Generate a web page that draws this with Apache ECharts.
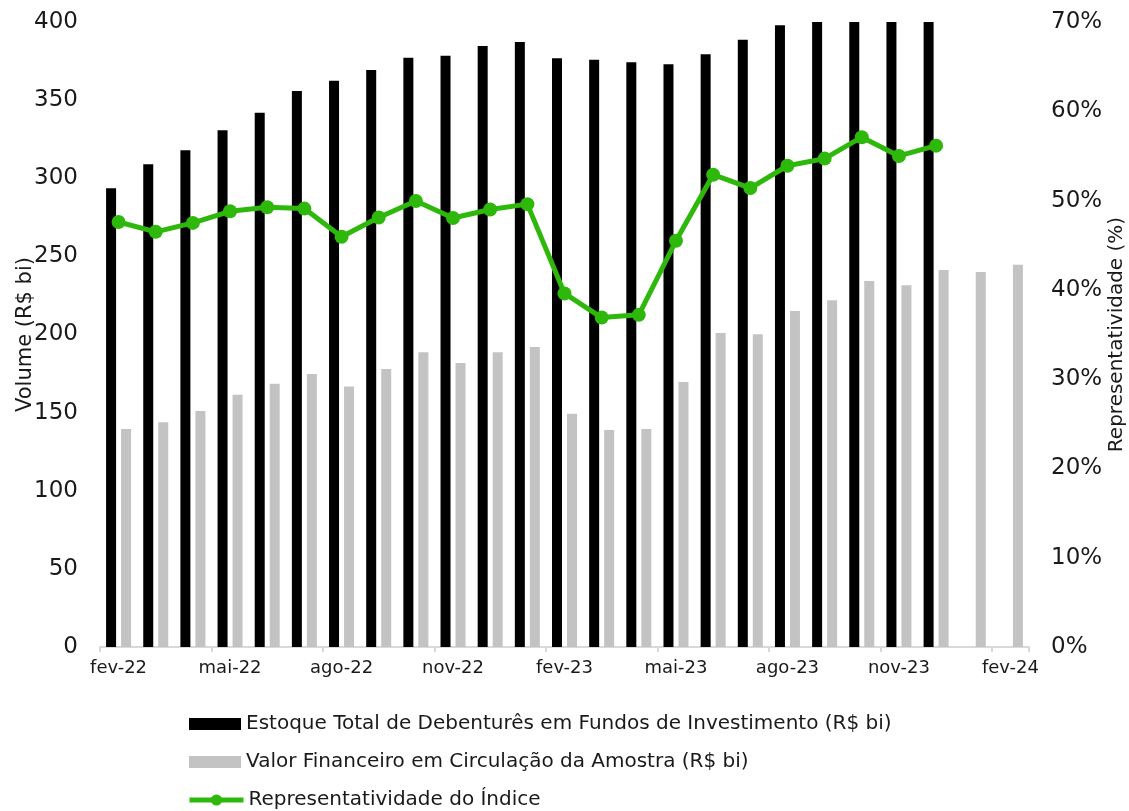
<!DOCTYPE html>
<html>
<head>
<meta charset="utf-8">
<script src="https://cdn.jsdelivr.net/npm/echarts@6/dist/echarts.min.js"></script>
<style>html,body{margin:0;padding:0;background:#fff}#c{width:1129px;height:811px}</style>
</head>
<body>
<div id="c"></div>
<script>
const categories = ['fev-22','mar-22','abr-22','mai-22','jun-22','jul-22','ago-22','set-22','out-22','nov-22','dez-22','jan-23',
  'fev-23','mar-23','abr-23','mai-23','jun-23','jul-23','ago-23','set-23','out-23','nov-23','dez-23','jan-24','fev-24'];
const estoqueTotal = [293.6,309,318,330.7,342,355.8,362.4,369.3,377.2,378.4,384.6,387.2,
  376.8,375.9,374.2,372.9,379.3,388.7,398,404,408,410,412,null,null];
const valorFinanceiro = [139.5,143.8,151,161.5,168.5,174.7,166.8,177.9,188.6,181.8,188.6,192,
  149.3,138.9,139.5,169.6,201,200.1,215,222,234.2,231.5,241.3,240,244.7];
const representatividade = [47.6,46.5,47.5,48.8,49.25,49.1,45.95,48.1,49.95,48.05,49.0,49.6,
  39.6,36.9,37.2,45.5,52.9,51.4,53.9,54.7,57.1,55.0,56.15,null,null];
const seriesNames = ['Estoque Total de Debenturês em Fundos de Investimento (R$ bi)',
  'Valor Financeiro em Circulação da Amostra (R$ bi)', 'Representatividade do Índice'];
const leftTicks = {min:0, max:400, interval:50};
const rightTicks = {min:0, max:70, interval:10};

const chart = echarts.init(document.getElementById('c'));
const font = 'DejaVu Sans, sans-serif';
const txt = '#1a1a1a';
const green = '#2eb80c';
function leg(i, top, extra){
  return Object.assign({
    orient:'horizontal', left:189, top:top, padding:0, itemWidth:52, itemHeight:12, itemGap:5,
    textStyle:{fontFamily:font, fontSize:20, color:txt, lineHeight:20},
    data:[seriesNames[i]]
  }, extra||{});
}
chart.setOption({
  animation:false,
  grid:{left:100, right:100, top:22, bottom:164, containLabel:false, outerBoundsMode:'none'},
  legend:[
    leg(0, 714, {data:[{name:seriesNames[0], icon:'rect'}]}),
    leg(1, 752, {data:[{name:seriesNames[1], icon:'rect'}]}),
    leg(2, 790, {itemHeight:14, itemWidth:54, left:187, data:[{name:seriesNames[2], lineStyle:{width:5}}]})
  ],
  xAxis:{
    type:'category', data:categories, boundaryGap:true,
    axisLine:{show:true, lineStyle:{color:'#d9d9d9', width:2}},
    axisTick:{show:true, interval:2, alignWithLabel:false, length:5, lineStyle:{color:'#d9d9d9', width:2}},
    axisLabel:{interval:2, fontFamily:font, fontSize:18, color:txt, margin:12}
  },
  yAxis:[
    {type:'value', min:leftTicks.min, max:leftTicks.max, interval:leftTicks.interval,
     name:'Volume (R$ bi)', nameLocation:'middle', nameGap:64, nameMoveOverlap:false,
     nameTextStyle:{fontFamily:font, fontSize:21, color:txt},
     axisLine:{show:false}, axisTick:{show:false}, splitLine:{show:false},
     axisLabel:{fontFamily:font, fontSize:23, color:txt, margin:22}},
    {type:'value', min:rightTicks.min, max:rightTicks.max, interval:rightTicks.interval,
     name:'Representatividade (%)', nameLocation:'middle', nameGap:78, nameMoveOverlap:false,
     nameTextStyle:{fontFamily:font, fontSize:20, color:txt},
     axisLine:{show:false}, axisTick:{show:false}, splitLine:{show:false},
     axisLabel:{fontFamily:font, fontSize:23, color:txt, margin:22, formatter:'{value}%'}}
  ],
  series:[
    {name:seriesNames[0], type:'bar', data:estoqueTotal,
     barWidth:10, barGap:'50%', clip:true, itemStyle:{color:'#000000'}},
    {name:seriesNames[1], type:'bar', data:valorFinanceiro,
     barWidth:10, barGap:'50%', clip:true, itemStyle:{color:'#c3c3c3'}},
    {name:seriesNames[2], type:'line', yAxisIndex:1, data:representatividade,
     symbol:'circle', symbolSize:14, z:5,
     lineStyle:{color:green, width:5}, itemStyle:{color:green}}
  ]
});
</script>
</body>
</html>
